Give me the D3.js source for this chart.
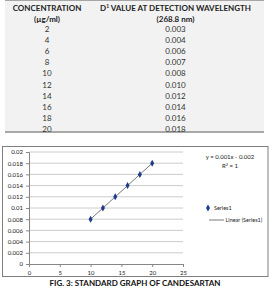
<!DOCTYPE html>
<html>
<head>
<meta charset="utf-8">
<script src="https://cdn.jsdelivr.net/npm/d3@7"></script>
<style>
  body { margin: 0; background: #fff; }
  svg { display: block; font-family: Lato, "Open Sans", sans-serif; }
</style>
</head>
<body>
<div id="chart"></div>
<script>
// Table data
const concentrations = ["2", "4", "6", "8", "10", "12", "14", "16", "18", "20"];
const d3Values = ["0.003", "0.004", "0.006", "0.007", "0.008", "0.010", "0.012", "0.014", "0.016", "0.018"];

// Plotted series (only 10-20 are in the graph)
const seriesX = [10, 12, 14, 16, 18, 20];
const seriesY = [0.008, 0.010, 0.012, 0.014, 0.016, 0.018];
const slope = 0.001;
const intercept = -0.002;
const xTicks = [0, 5, 10, 15, 20, 25];
const yTicks = [0, 0.002, 0.004, 0.006, 0.008, 0.01, 0.012, 0.014, 0.016, 0.018, 0.02];

const W = 271, H = 288;
const svg = d3.select("#chart").append("svg").attr("width", W).attr("height", H);

// ---- Table ----
const tableLeft = 5, tableRight = 264, colSplit = 87;
const rowTop = 24, rowH = 11.1;

svg.append("rect")
  .attr("x", tableLeft).attr("y", 0)
  .attr("width", tableRight - tableLeft).attr("height", 132)
  .attr("fill", "#f2f2f2");

svg.append("line")
  .attr("x1", tableLeft).attr("x2", tableRight).attr("y1", 0.5).attr("y2", 0.5)
  .attr("stroke", "#a6a6a6");
svg.append("line")
  .attr("x1", tableLeft).attr("x2", tableRight).attr("y1", 132).attr("y2", 132)
  .attr("stroke", "#8c8c8c").attr("stroke-width", 1.5);

const c1 = (tableLeft + colSplit) / 2 + 1;
const c2 = (colSplit + tableRight) / 2;

const header = svg.append("g").attr("font-weight", "bold").attr("font-size", 8)
  .attr("text-anchor", "middle").attr("fill", "#222");
header.append("text").attr("x", c1).attr("y", 11).text("CONCENTRATION");
header.append("text").attr("x", c1).attr("y", 22).text("(µg/ml)");
const h2 = header.append("text").attr("x", c2).attr("y", 11);
h2.append("tspan").text("D");
h2.append("tspan").attr("font-size", 5).attr("dy", -3).text("1");
h2.append("tspan").attr("dy", 3).text(" VALUE AT DETECTION WAVELENGTH");
header.append("text").attr("x", c2).attr("y", 22).text("(268.8 nm)");

const rows = svg.append("g").attr("font-size", 8).attr("text-anchor", "middle").attr("fill", "#333");
concentrations.forEach((c, i) => {
  const y = rowTop + rowH * i + 8;
  rows.append("text").attr("x", c1).attr("y", y).text(c);
  rows.append("text").attr("x", c2).attr("y", y).text(d3Values[i]);
});

// ---- Chart ----
svg.append("rect")
  .attr("x", 2.5).attr("y", 146.5).attr("width", 265.5).attr("height", 130)
  .attr("fill", "#fff").attr("stroke", "#7f7f7f");

const x = d3.scaleLinear().domain([0, 25]).range([29, 183]);
const y = d3.scaleLinear().domain([0, 0.02]).range([264, 152]);

// gridlines
svg.append("g").selectAll("line").data(yTicks.slice(1)).join("line")
  .attr("x1", x(0)).attr("x2", x(25))
  .attr("y1", d => y(d)).attr("y2", d => y(d))
  .attr("stroke", "#bfbfbf").attr("stroke-width", 0.8);

const yAxis = svg.append("g").attr("transform", `translate(${x(0)},0)`)
  .call(d3.axisLeft(y).tickValues(yTicks).tickSize(3).tickPadding(3)
    .tickFormat(d => d === 0 ? "0" : String(+d.toFixed(3))));
const xAxis = svg.append("g").attr("transform", `translate(0,${y(0)})`)
  .call(d3.axisBottom(x).tickValues(xTicks).tickSize(3).tickPadding(4));
[xAxis, yAxis].forEach(g => {
  g.select(".domain").attr("stroke", "#868686");
  g.selectAll(".tick line").attr("stroke", "#868686");
  g.selectAll("text").attr("font-size", 6).attr("fill", "#222")
    .attr("font-family", "Lato, 'Open Sans', sans-serif");
});

// trendline
svg.append("line")
  .attr("x1", x(seriesX[0])).attr("y1", y(slope * seriesX[0] + intercept))
  .attr("x2", x(seriesX[seriesX.length - 1])).attr("y2", y(slope * seriesX[seriesX.length - 1] + intercept))
  .attr("stroke", "#555").attr("stroke-width", 0.8);

const diamond = d3.symbol().type(d3.symbolDiamond).size(14);
svg.append("g").selectAll("path").data(seriesX).join("path")
  .attr("d", diamond)
  .attr("transform", (d, i) => `translate(${x(d)},${y(seriesY[i])})`)
  .attr("fill", "#1f3b8c");

// equation
const eq = svg.append("g").attr("font-size", 6).attr("text-anchor", "middle").attr("fill", "#222");
eq.append("text").attr("x", 230).attr("y", 159).text("y = 0.001x - 0.002");
const r2 = eq.append("text").attr("x", 230).attr("y", 168);
r2.append("tspan").text("R");
r2.append("tspan").attr("font-size", 4).attr("dy", -2).text("2");
r2.append("tspan").attr("dy", 2).text(" = 1");

// legend
const leg = svg.append("g").attr("font-size", 5.5).attr("fill", "#222");
leg.append("path").attr("d", diamond).attr("transform", "translate(208,208)").attr("fill", "#1f3b8c");
leg.append("text").attr("x", 214).attr("y", 210).text("Series1");
leg.append("line").attr("x1", 209).attr("x2", 224).attr("y1", 220).attr("y2", 220)
  .attr("stroke", "#555").attr("stroke-width", 0.8);
leg.append("text").attr("x", 225.5).attr("y", 222).text("Linear (Series1)");

// caption
svg.append("text").attr("x", 135).attr("y", 286)
  .attr("text-anchor", "middle").attr("font-size", 8).attr("font-weight", "bold")
  .attr("fill", "#111").text("FIG. 3: STANDARD GRAPH OF CANDESARTAN");
</script>
</body>
</html>
